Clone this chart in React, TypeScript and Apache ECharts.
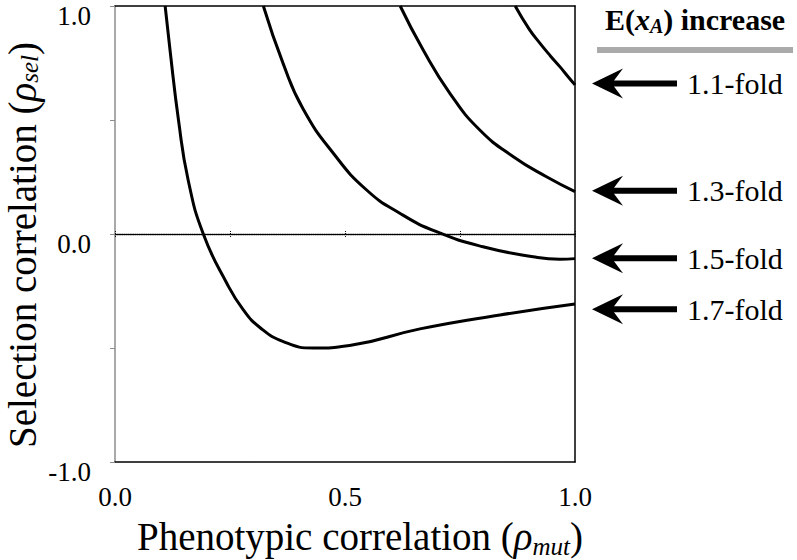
import React, { useEffect, useRef } from "react";
import * as echarts from "echarts";

// Curves: x = phenotypic correlation, y = selection correlation
const x11 = [0.87, 0.9, 0.924, 0.947, 0.967, 0.985, 1.0];
const y11 = [1.0, 0.9, 0.836, 0.78, 0.734, 0.69, 0.654];

const x13 = [0.62, 0.67, 0.728, 0.793, 0.866, 0.938, 1.0];
const y13 = [1.0, 0.807, 0.617, 0.456, 0.339, 0.251, 0.186];

const x15 = [0.3225, 0.366, 0.409, 0.4746, 0.547, 0.62, 0.699, 0.8, 0.909, 0.967, 1.0];
const y15 = [1.0, 0.745, 0.548, 0.354, 0.193, 0.09, 0.01, -0.056, -0.1, -0.111, -0.108];

const x17 = [0.109, 0.1196, 0.138, 0.159, 0.192, 0.243, 0.279, 0.315, 0.366, 0.431, 0.51, 0.663, 0.837, 1.0];
const y17 = [1.0, 0.807, 0.5, 0.237, 0.0, -0.216, -0.333, -0.41, -0.472, -0.5, -0.489, -0.416, -0.355, -0.307];

const xTicks = [0, 0.5, 1];
const yTicks = [-1, 0, 1];

const foldLabels = ["1.1-fold", "1.3-fold", "1.5-fold", "1.7-fold"];
const arrowValues = [0.66, 0.19, -0.106, -0.33];

const FONT = "Liberation Serif";

function zip(xs: number[], ys: number[]) {
  return xs.map((x, i) => [x, ys[i]]);
}

export default function App() {
  const ref = useRef<HTMLDivElement>(null);
  useEffect(() => {
    if (!ref.current) return;
    const chart = echarts.init(ref.current, undefined, { renderer: "svg" });
    const curves = [zip(x11, y11), zip(x13, y13), zip(x15, y15), zip(x17, y17)];
    const lineSeries = curves.map((d, i) => ({
      type: "line",
      name: foldLabels[i],
      data: d,
      xAxisIndex: 0,
      yAxisIndex: 0,
      showSymbol: false,
      symbol: "none",
      smooth: 0.5,
      lineStyle: { color: "#000", width: 3 },
      z: 5,
    }));
    const isTick = (v: number, ticks: number[]) => ticks.some((t) => Math.abs(t - v) < 1e-9);
    const xTitleRich = {
      i: { fontFamily: FONT, fontSize: 39, fontStyle: "italic", color: "#000", lineHeight: 45 },
      sub: { fontFamily: FONT, fontSize: 25, fontStyle: "italic", color: "#000", lineHeight: 25, verticalAlign: "bottom" },
    };
    const yTitleRich = {
      i: { fontFamily: FONT, fontSize: 39, fontStyle: "italic", color: "#000", lineHeight: 39 },
      sub: { fontFamily: FONT, fontSize: 25, fontStyle: "italic", color: "#000", lineHeight: 25, verticalAlign: "bottom" },
    };
    chart.setOption({
      animation: false,
      backgroundColor: "#fff",
      textStyle: { fontFamily: FONT },
      grid: { left: 115, right: 222, top: 6, bottom: 98, containLabel: false, outerBoundsMode: "none" },
      xAxis: [
        {
          type: "value",
          min: 0,
          max: 1,
          interval: 0.5,
          position: "bottom",
          axisLine: { onZero: false, lineStyle: { color: "#000", width: 1.5 } },
          axisTick: { show: false },
          splitLine: { show: false },
          axisLabel: {
            margin: 21,
            fontFamily: FONT,
            fontSize: 27,
            color: "#000",
            formatter: (v: number) => (isTick(v, xTicks) ? v.toFixed(1) : ""),
          },
          name: "Phenotypic correlation ({i|ρ}{sub|mut})",
          nameLocation: "middle",
          nameGap: 52,
          nameMoveOverlap: false,
          nameTextStyle: {
            fontFamily: FONT,
            fontSize: 39,
            color: "#000",
            lineHeight: 45,
            padding: [0, 0, 0, 30],
            rich: xTitleRich,
          },
        },
        {
          type: "value",
          min: 0,
          max: 1,
          position: "top",
          axisLine: { onZero: false, lineStyle: { color: "#000", width: 1.5 } },
          axisTick: { show: false },
          axisLabel: { show: false },
          splitLine: { show: false },
        },
        {
          type: "value",
          min: 0,
          max: 1,
          interval: 0.25,
          position: "bottom",
          axisLine: { onZero: true, onZeroAxisIndex: 0, lineStyle: { color: "#000", width: 1.3, type: [1.2, 1] } },
          axisTick: { show: true, inside: false, length: 4, lineStyle: { color: "#111", width: 1, type: [1, 1] } },
          axisLabel: { show: false },
          splitLine: { show: false },
        },
        {
          type: "value",
          min: 0,
          max: 1,
          interval: 0.25,
          position: "bottom",
          axisLine: { show: false, onZero: true, onZeroAxisIndex: 0 },
          axisTick: { show: true, inside: true, length: 4, lineStyle: { color: "#111", width: 1, type: [1, 1] } },
          axisLabel: { show: false },
          splitLine: { show: false },
        },
      ],
      yAxis: [
        {
          type: "value",
          min: -1,
          max: 1,
          interval: 0.5,
          position: "left",
          axisLine: { onZero: false, lineStyle: { color: "#8c8c8c", width: 1.5 } },
          axisTick: { show: true, inside: false, length: 5, lineStyle: { color: "#8c8c8c", width: 1 } },
          splitLine: { show: false },
          axisLabel: {
            margin: 24,
            fontFamily: FONT,
            fontSize: 27,
            color: "#000",
            verticalAlign: "top",
            lineHeight: 20,
            formatter: (v: number) => (isTick(v, yTicks) ? v.toFixed(1) : ""),
          },
          name: "Selection correlation ({i|ρ}{sub|sel})",
          nameLocation: "middle",
          nameGap: 73,
          nameMoveOverlap: false,
          nameTextStyle: {
            fontFamily: FONT,
            fontSize: 39,
            color: "#000",
            lineHeight: 39,
            padding: [0, 22, 0, 0],
            rich: yTitleRich,
          },
        },
        {
          type: "value",
          min: -1,
          max: 1,
          position: "right",
          axisLine: { show: true, onZero: false, lineStyle: { color: "#000", width: 1.5 } },
          axisTick: { show: false },
          axisLabel: { show: false },
          splitLine: { show: false },
        },
      ],
      series: lineSeries,
    });

    const tipX = 592;
    const headBack = 623;
    const notch = 614;
    const tailX = 677;
    const arrows: any[] = [];
    arrowValues.forEach((v, i) => {
      const y = chart.convertToPixel({ yAxisIndex: 0 }, v) as number;
      arrows.push({
        type: "polygon",
        shape: {
          points: [
            [tipX, y],
            [headBack, y - 15],
            [notch, y - 3],
            [tailX, y - 3],
            [tailX, y + 3],
            [notch, y + 3],
            [headBack, y + 15],
          ],
        },
        style: { fill: "#000" },
      });
      arrows.push({
        type: "text",
        x: 687,
        y,
        style: {
          text: foldLabels[i],
          fontFamily: FONT,
          fontSize: 30,
          fill: "#000",
          verticalAlign: "middle",
          align: "left",
        },
      });
    });
    chart.setOption({
      graphic: [
        {
          type: "text",
          x: 695,
          y: 19,
          style: {
            text: "E({xi|x}{xs|A}) increase",
            fontFamily: FONT,
            fontSize: 30,
            fontWeight: "bold",
            fill: "#000",
            align: "center",
            verticalAlign: "middle",
            rich: {
              xi: { fontFamily: FONT, fontSize: 30, fontWeight: "bold", fontStyle: "italic", fill: "#000", lineHeight: 34 },
              xs: { fontFamily: FONT, fontSize: 20, fontWeight: "bold", fontStyle: "italic", fill: "#000", lineHeight: 20, verticalAlign: "bottom" },
            },
          },
        },
        {
          type: "rect",
          shape: { x: 597, y: 47, width: 196, height: 6 },
          style: { fill: "#aaaaaa" },
        },
        ...arrows,
      ],
    });
    return () => chart.dispose();
  }, []);
  return (
    <div
      ref={ref}
      style={{ position: "fixed", left: 0, top: 0, width: 797, height: 560, background: "#fff" }}
    />
  );
}
